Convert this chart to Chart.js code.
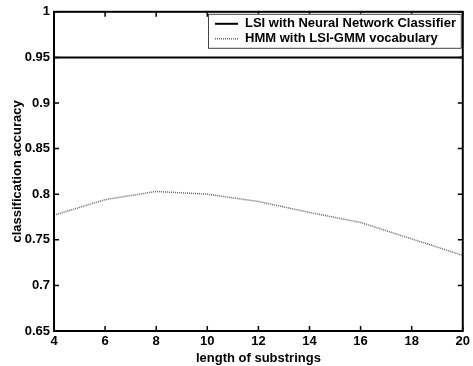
<!DOCTYPE html>
<html>
<head>
<meta charset="UTF-8">
<script src="https://cdn.jsdelivr.net/npm/chart.js"></script>
<style>
  body { margin: 0; background: #fff; }
  #wrap { width: 473px; height: 366px; position: relative; }
</style>
</head>
<body>
<div id="wrap"><canvas id="c" width="473" height="366"></canvas></div>
<script>
// values
const substringLengths = [4, 6, 8, 10, 12, 14, 16, 18, 20];
const lsiNeuralNet = [0.95, 0.95, 0.95, 0.95, 0.95, 0.95, 0.95, 0.95, 0.95];
const hmmLsiGmm = [0.777, 0.794, 0.803, 0.800, 0.792, 0.780, 0.769, 0.751, 0.733];
const xTicks = [4, 6, 8, 10, 12, 14, 16, 18, 20];
const yTicks = [0.65, 0.7, 0.75, 0.8, 0.85, 0.9, 0.95, 1];
const seriesNames = ['LSI with Neural Network Classifier', 'HMM with LSI-GMM vocabulary'];

const FONT = { family: 'Arial, "Liberation Sans", Helvetica, sans-serif', size: 13, weight: 'bold' };

// matlab-ish frame: box round the plot, ticks pointing inward on all sides, boxed legend
const frame = {
  id: 'frame',
  afterDraw(chart) {
    const { ctx, chartArea: a, scales: { x, y } } = chart;
    ctx.save();
    ctx.strokeStyle = '#000';
    ctx.lineWidth = 2;
    ctx.strokeRect(a.left, a.top, a.right - a.left, a.bottom - a.top);
    ctx.lineWidth = 1.5;
    ctx.beginPath();
    xTicks.forEach(v => {
      const px = x.getPixelForValue(v);
      ctx.moveTo(px, a.bottom); ctx.lineTo(px, a.bottom - 5);
      ctx.moveTo(px, a.top); ctx.lineTo(px, a.top + 5);
    });
    yTicks.forEach(v => {
      const py = y.getPixelForValue(v);
      ctx.moveTo(a.left, py); ctx.lineTo(a.left + 5, py);
      ctx.moveTo(a.right, py); ctx.lineTo(a.right - 5, py);
    });
    ctx.stroke();

    // legend
    const lx = 208, ly = a.top + 2, lw = a.right - 2 - lx, lh = 34;
    ctx.fillStyle = '#fff';
    ctx.fillRect(lx, ly, lw, lh);
    ctx.lineWidth = 1;
    ctx.strokeStyle = '#444';
    ctx.strokeRect(lx + 0.5, ly + 0.5, lw, lh);
    ctx.font = 'bold 13px ' + FONT.family;
    ctx.textBaseline = 'middle';
    ctx.fillStyle = '#000';
    chart.data.datasets.forEach((ds, i) => {
      const yy = ly + 10 + i * 15;
      ctx.beginPath();
      ctx.strokeStyle = ds.borderColor;
      ctx.lineWidth = ds.borderWidth;
      ctx.setLineDash(ds.borderDash || []);
      ctx.moveTo(215, yy); ctx.lineTo(238, yy);
      ctx.stroke();
      ctx.setLineDash([]);
      ctx.fillText(seriesNames[i], 245, yy);
    });
    ctx.restore();
  }
};

new Chart(document.getElementById('c'), {
  type: 'line',
  data: {
    labels: substringLengths,
    datasets: [
      { label: seriesNames[0], data: substringLengths.map((v, i) => ({ x: v, y: lsiNeuralNet[i] })),
        borderColor: '#000', borderWidth: 2, pointRadius: 0, tension: 0 },
      { label: seriesNames[1], data: substringLengths.map((v, i) => ({ x: v, y: hmmLsiGmm[i] })),
        borderColor: '#666', borderWidth: 1.5, borderDash: [1, 1], pointRadius: 0, tension: 0 }
    ]
  },
  options: {
    responsive: false,
    animation: false,
    layout: { padding: { left: 0, right: 10, top: 10, bottom: 0 } },
    plugins: { legend: { display: false }, tooltip: { enabled: false } },
    scales: {
      x: {
        type: 'linear', min: 4, max: 20,
        afterBuildTicks: s => { s.ticks = xTicks.map(v => ({ value: v })); },
        afterFit: s => { s.height = 35; },
        grid: { display: false, drawTicks: false },
        border: { display: false },
        ticks: { color: '#000', font: FONT, padding: 3, maxRotation: 0 },
        title: { display: true, text: 'length of substrings', color: '#000', font: FONT, padding: { top: 0, bottom: 0 } }
      },
      y: {
        min: 0.65, max: 1,
        afterBuildTicks: s => { s.ticks = yTicks.map(v => ({ value: v })); },
        afterFit: s => { s.width = 54; },
        grid: { display: false, drawTicks: false },
        border: { display: false },
        ticks: { color: '#000', font: FONT, padding: 4, callback: v => String(Math.round(v * 100) / 100) },
        title: { display: true, text: 'classification accuracy', color: '#000', font: FONT, padding: { top: 10, bottom: 0 } }
      }
    }
  },
  plugins: [frame]
});
</script>
</body>
</html>
